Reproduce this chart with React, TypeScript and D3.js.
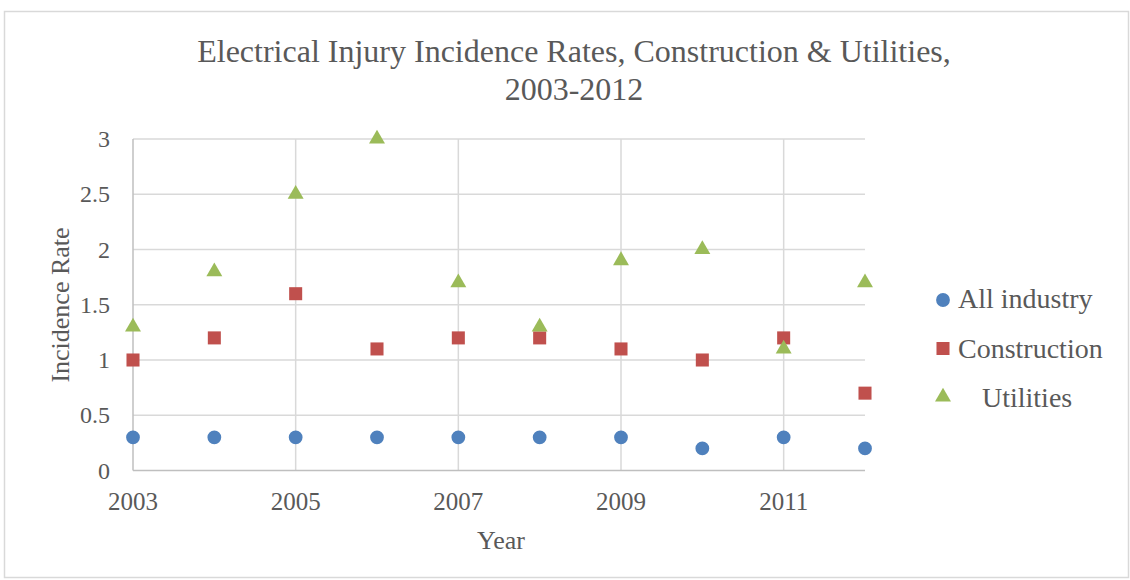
import React from "react";
import * as d3 from "d3";

const years = [2003, 2004, 2005, 2006, 2007, 2008, 2009, 2010, 2011, 2012];
const allIndustry = [0.3, 0.3, 0.3, 0.3, 0.3, 0.3, 0.3, 0.2, 0.3, 0.2];
const construction = [1.0, 1.2, 1.6, 1.1, 1.2, 1.2, 1.1, 1.0, 1.2, 0.7];
const utilities = [1.3, 1.8, 2.5, 3.0, 1.7, 1.3, 1.9, 2.0, 1.1, 1.7];
const xTicks = [2003, 2005, 2007, 2009, 2011];
const yTicks = [0, 0.5, 1, 1.5, 2, 2.5, 3];
const seriesNames = ["All industry", "Construction", "Utilities"];
const colors = ["#4f81bd", "#c0504d", "#9bbb59"];

const W = 1130;
const H = 580;
const FONT = "'Liberation Serif', serif";
const TXT = "#595959";

export default function App() {
  const x = d3.scaleLinear().domain([2003, 2012]).range([133, 865]);
  const y = d3.scaleLinear().domain([0, 3]).range([470.5, 139]);
  const sym = (type: d3.SymbolType, size: number) => d3.symbol().type(type).size(size)() as string;
  const circle = sym(d3.symbolCircle, 150);
  const square = sym(d3.symbolSquare, 170);
  const triangle = sym(d3.symbolTriangle, 110);
  const shapes = [circle, square, triangle];
  const data = [allIndustry, construction, utilities];

  return (
    <svg width={W} height={H} style={{ position: "absolute", left: 0, top: 0 }} fontFamily={FONT}>
      <rect x={0} y={0} width={W} height={H} fill="#fff" />
      <rect x={4.5} y={11.5} width={1124} height={566} fill="none" stroke="#d9d9d9" strokeWidth={1.5} />
      <text x={574} y={62} textAnchor="middle" fontSize={32} fill={TXT}>
        Electrical  Injury Incidence Rates, Construction &amp; Utilities,
      </text>
      <text x={574} y={100} textAnchor="middle" fontSize={32} fill={TXT}>
        2003-2012
      </text>
      {yTicks.map((t) => (
        <g key={"y" + t}>
          {t > 0 && <line x1={133} x2={865} y1={y(t)} y2={y(t)} stroke="#d9d9d9" strokeWidth={1.5} />}
          <text x={110} y={y(t) + 8} textAnchor="end" fontSize={24} fill={TXT}>
            {t}
          </text>
        </g>
      ))}
      {xTicks.map((t) => (
        <g key={"x" + t}>
          <line x1={x(t)} x2={x(t)} y1={139} y2={470.5} stroke={t === 2003 ? "#bfbfbf" : "#d9d9d9"} strokeWidth={1.5} />
          <text x={x(t)} y={510} textAnchor="middle" fontSize={25} fill={TXT}>
            {t}
          </text>
        </g>
      ))}
      <line x1={133} x2={865} y1={470.5} y2={470.5} stroke="#bfbfbf" strokeWidth={1.5} />
      <text transform="translate(69,305) rotate(-90)" textAnchor="middle" fontSize={26} fill={TXT}>
        Incidence  Rate
      </text>
      <text x={501} y={549} textAnchor="middle" fontSize={26} fill={TXT}>
        Year
      </text>
      {data.map((vals, si) => (
        <g key={"s" + si} fill={colors[si]}>
          {vals.map((v, i) => (
            <path key={i} d={shapes[si]} transform={`translate(${x(years[i])},${y(v)})`} />
          ))}
        </g>
      ))}
      {seriesNames.map((name, i) => (
        <g key={"l" + i}>
          <path d={shapes[i]} fill={colors[i]} transform={`translate(943,${300 + i * 48.5})`} />
          <text x={i === 2 ? 982 : 958} y={308 + i * 49.5} fontSize={28} fill={TXT}>
            {name}
          </text>
        </g>
      ))}
    </svg>
  );
}
